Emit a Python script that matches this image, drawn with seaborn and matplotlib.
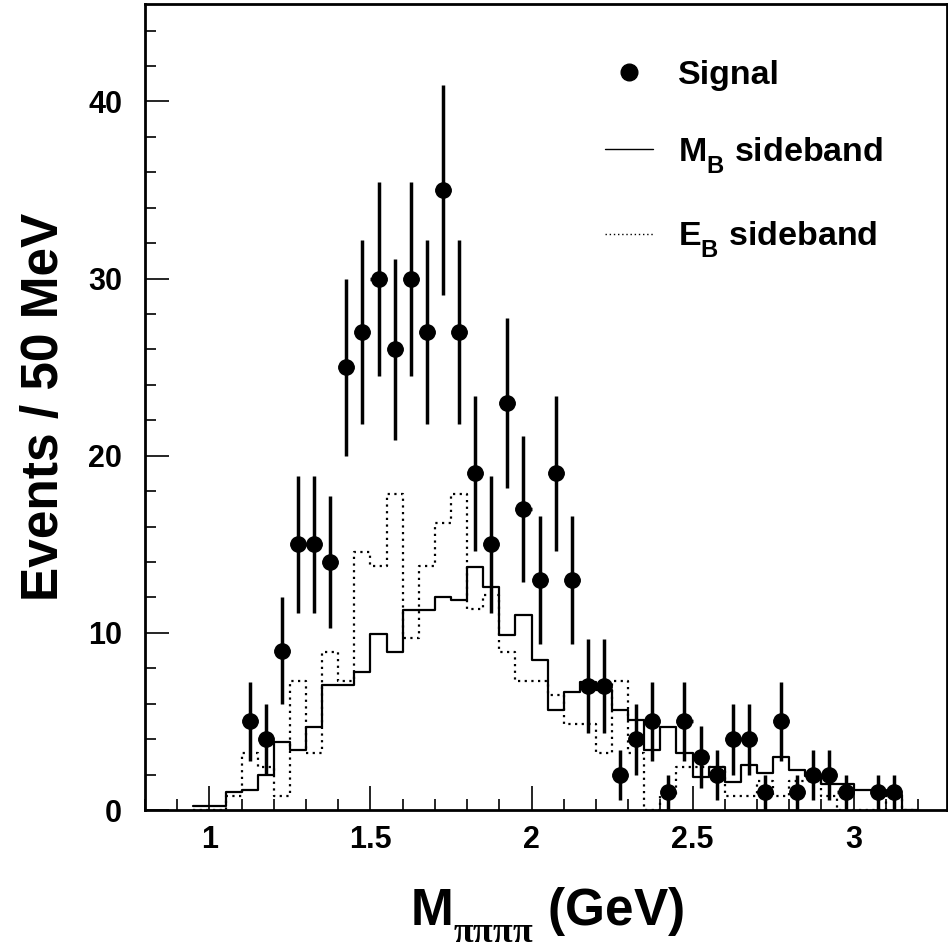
import numpy as np
import pandas as pd
import matplotlib
matplotlib.use("Agg")
import matplotlib.pyplot as plt
import matplotlib._mathtext as mathtext_internals
from matplotlib.lines import Line2D
from matplotlib.ticker import MultipleLocator, FormatStrFormatter
import seaborn as sns

# signal: bin centre (GeV) and events per 50 MeV
sig_mass = [1.125, 1.175, 1.225, 1.275, 1.325, 1.375, 1.425, 1.475, 1.525, 1.575,
            1.625, 1.675, 1.725, 1.775, 1.825, 1.875, 1.925, 1.975, 2.025, 2.075,
            2.125, 2.175, 2.225, 2.275, 2.325, 2.375, 2.425, 2.475, 2.525, 2.575,
            2.625, 2.675, 2.725, 2.775, 2.825, 2.875, 2.925, 2.975, 3.075, 3.125]
sig_events = [5, 4, 9, 15, 15, 14, 25, 27, 30, 26,
              30, 27, 35, 27, 19, 15, 23, 17, 13, 19,
              13, 7, 7, 2, 4, 5, 1, 5, 3, 2,
              4, 4, 1, 5, 1, 2, 2, 1, 1, 1]

# sideband histograms, one value per 50 MeV bin starting at 0.95 GeV
mb_sideband = [0.25, 0.25, 1.0, 1.13, 2.0, 3.82, 3.39, 4.67, 7.06, 7.06,
               7.78, 9.92, 8.9, 11.3, 11.3, 12.0, 11.86, 13.7, 12.58, 9.9,
               11.0, 8.47, 5.65, 6.68, 7.2, 6.78, 5.65, 5.08, 3.4, 4.67,
               3.24, 1.88, 2.41, 1.56, 2.54, 2.1, 2.97, 2.26, 1.9, 1.45,
               1.45, 1.15, 1.15, 0.85, 0.0]
eb_sideband = [0.0, 0.0, 0.81, 3.24, 2.43, 0.81, 7.29, 3.24, 8.91, 7.29,
               14.58, 13.77, 17.82, 9.72, 13.77, 16.2, 17.82, 11.34, 12.15, 8.91,
               7.29, 7.29, 6.48, 4.86, 4.86, 3.24, 7.29, 3.24, 0.0, 0.81,
               2.43, 2.43, 2.43, 0.81, 0.81, 1.62, 0.81, 1.62, 1.62, 0.81,
               0.0, 0.0, 0.0, 0.81, 0.0]

bin_width = 0.05
edges = [round(0.95 + bin_width * i, 3) for i in range(len(mb_sideband) + 1)]
hist = pd.DataFrame({
    "mass": [e + bin_width / 2 for e in edges[:-1]],
    "mb": mb_sideband,
    "eb": eb_sideband,
})

sns.set_style("ticks")
plt.rcParams.update({
    "font.family": ["Liberation Sans", "DejaVu Sans"],
    "font.weight": "bold",
    "text.color": "black",
    "axes.labelcolor": "black",
    "axes.edgecolor": "black",
    "xtick.color": "black",
    "ytick.color": "black",
    "mathtext.fontset": "custom",
    "mathtext.rm": "Liberation Sans:bold",
    "mathtext.it": "Liberation Serif",
    "mathtext.bf": "Liberation Sans:bold",
})
# ROOT-style labels drop their subscripts further below the baseline
mathtext_internals.FontConstantsBase.sub1 = 0.75

fig = plt.figure(figsize=(9.48, 9.49), dpi=100)
ax = fig.add_axes([145 / 948, 1 - 810 / 949, 802 / 948, 806 / 949])

sns.histplot(data=hist, x="mass", weights="mb", bins=edges, element="step",
             fill=False, color="black", linewidth=1.6, ax=ax)
sns.histplot(data=hist, x="mass", weights="eb", bins=edges, element="step",
             fill=False, color="black", linewidth=1.6, linestyle=(0, (1, 2)), ax=ax)

ax.errorbar(sig_mass, sig_events, yerr=np.sqrt(sig_events), xerr=bin_width / 2,
            fmt="o", color="black", ms=11, elinewidth=2.5, capsize=0, zorder=5)

ax.set_xlim(0.8, 3.29)
ax.set_ylim(0, 45.5)
ax.xaxis.set_major_locator(MultipleLocator(0.5))
ax.xaxis.set_minor_locator(MultipleLocator(0.1))
ax.yaxis.set_major_locator(MultipleLocator(10))
ax.yaxis.set_minor_locator(MultipleLocator(2))
ax.xaxis.set_major_formatter(FormatStrFormatter("%g"))
ax.tick_params(which="both", direction="in", top=False, right=False,
               labelsize=22, width=1.2)
ax.tick_params(which="major", length=17)
ax.tick_params(which="minor", length=8)
ax.tick_params(axis="y", which="major", pad=16.5)
ax.tick_params(axis="x", which="major", pad=11)
for spine in ax.spines.values():
    spine.set_linewidth(2)

ax.set_ylabel("Events / 50 MeV", fontsize=37, fontweight="bold")
ax.yaxis.set_label_coords(-0.095, 0.5)
ax.set_xlabel(r"M$_{\pi\pi\pi\pi}$ (GeV)", fontsize=37, fontweight="bold")
ax.xaxis.set_label_coords(0.5015, -0.094)

handles = [
    Line2D([], [], marker="o", ls="none", color="black", ms=12),
    Line2D([], [], color="black", lw=1),
    Line2D([], [], color="black", lw=1, ls=(0, (1, 2))),
]
labels = ["Signal", r"M$_\mathrm{B}$ sideband", r"E$_\mathrm{B}$ sideband"]
ax.legend(handles, labels, loc="upper left", frameon=False,
          bbox_to_anchor=(605 / 948, 1 - 60 / 949), bbox_transform=fig.transFigure,
          borderpad=0, borderaxespad=0, handlelength=1.41, handletextpad=0.74,
          labelspacing=1.3, prop={"size": 24.5, "weight": "bold"})

fig.savefig("out.png", dpi=100)
